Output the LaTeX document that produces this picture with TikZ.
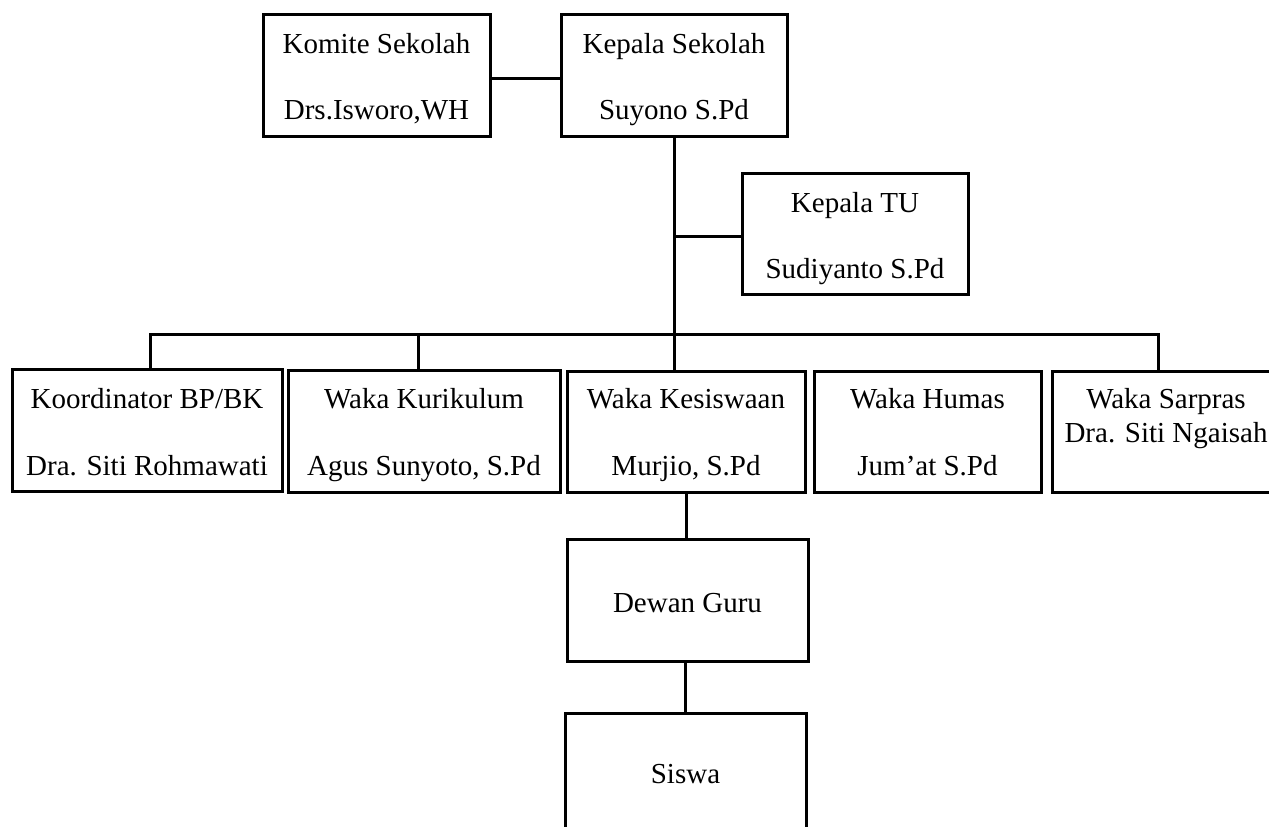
\documentclass[tikz,border=0pt]{standalone}
\usepackage{fontspec}
\setmainfont{Liberation Serif}
\begin{document}
\begin{tikzpicture}[x=1pt,y=-1pt,
  box/.style={draw=black,line width=3pt,rectangle,inner sep=0pt,outer sep=0pt},
  txt/.style={anchor=base,inner sep=0pt,font=\fontsize{29}{34}\selectfont},
  conn/.style={draw=black,line width=3pt}]
\useasboundingbox (0,0) rectangle (1269,827);
\clip (0,0) rectangle (1269,827);
% boxes
\node[box,minimum width=227pt,minimum height=122pt] (komite) at (376.5,75) {};
\node[box,minimum width=226pt,minimum height=122pt] (kepala) at (674,75) {};
\node[box,minimum width=226pt,minimum height=121pt] (tu) at (855,233.5) {};
\node[box,minimum width=270pt,minimum height=122pt] (koord) at (147,430) {};
\node[box,minimum width=272pt,minimum height=122pt] (kurik) at (424,431) {};
\node[box,minimum width=238pt,minimum height=121pt] (kesis) at (686,431.5) {};
\node[box,minimum width=227pt,minimum height=121pt] (humas) at (927.5,431.5) {};
\node[box,minimum width=228pt,minimum height=121pt] (sarpras) at (1166,431.5) {};
\node[box,minimum width=241pt,minimum height=122pt] (dewan) at (687.5,600) {};
\node[box,minimum width=241pt,minimum height=147pt] (siswa) at (685.5,786.5) {};
% texts
\node[txt] (t1) at (376.5,53) {Komite Sekolah};
\node[txt] (t2) at (376.5,119) {Drs.Isworo,WH};
\node[txt] (t3) at (674,53) {Kepala Sekolah};
\node[txt] (t4) at (674,119) {Suyono S.Pd};
\node[txt] (t5) at (855,212) {Kepala TU};
\node[txt] (t6) at (855,278) {Sudiyanto S.Pd};
\node[txt] (t7) at (147,408) {Koordinator BP/BK};
\node[txt] (t8) at (147,475) {Dra. Siti Rohmawati};
\node[txt] (t9) at (424,408) {Waka Kurikulum};
\node[txt] (t10) at (424,475) {Agus Sunyoto, S.Pd};
\node[txt] (t11) at (686,408) {Waka Kesiswaan};
\node[txt] (t12) at (686,475) {Murjio, S.Pd};
\node[txt] (t13) at (927.5,408) {Waka Humas};
\node[txt] (t14) at (927.5,475) {Jum’at S.Pd};
\node[txt] (t15) at (1166,408) {Waka Sarpras};
\node[txt] (t16) at (1166,442) {Dra. Siti Ngaisah};
\node[txt] (t17) at (687.5,612) {Dewan Guru};
\node[txt] (t18) at (685.5,783) {Siswa};
% connectors
\coordinate (busL) at (150,334);
\coordinate (busR) at (1158,334);
\coordinate (busK) at (418,334);
\draw[conn] ([yshift=-3pt]komite.east) -- ([yshift=-3pt]kepala.west);
\draw[conn] (kepala.south) -- (kepala.south |- kesis.north);
\draw[conn] ([yshift=-3pt]kepala.south |- tu.west) -- ([yshift=-3pt]tu.west);
\draw[conn] (busL |- koord.north) -- (busL) -- (busR) -- (busR |- sarpras.north);
\draw[conn] (busK) -- (busK |- kurik.north);
\draw[conn] (kesis.south) -- (kesis.south |- dewan.north);
\draw[conn] ([xshift=-2pt]dewan.south) -- ([xshift=-2pt]dewan.south |- siswa.north);
\end{tikzpicture}
\end{document}
